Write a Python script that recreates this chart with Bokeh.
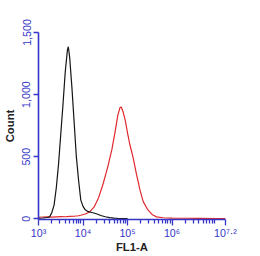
from bokeh.plotting import figure
from bokeh.models import Range1d, FixedTicker
from bokeh.embed import file_html
from bokeh.resources import INLINE
import math

# x values are log10(FL1-A)
black_x = [3.00, 3.10, 3.20, 3.25, 3.30, 3.35, 3.40, 3.45, 3.50, 3.55, 3.60, 3.65, 3.67, 3.70,
           3.75, 3.80, 3.85, 3.90, 3.95, 4.00, 4.05, 4.10, 4.20, 4.30, 4.40, 4.50, 4.60, 4.70,
           4.80, 5.00]
black_y = [4, 6, 10, 15, 50, 110, 250, 440, 680, 920, 1180, 1360, 1385, 1300,
           1060, 780, 500, 310, 150, 100, 72, 60, 50, 40, 26, 16, 9, 5,
           2, 1]

red_x = [3.00, 3.10, 3.20, 3.30, 3.40, 3.50, 3.60, 3.70, 3.80, 3.90, 3.95, 4.05, 4.15, 4.25,
         4.35, 4.45, 4.55, 4.65, 4.72, 4.78, 4.83, 4.86, 4.90, 4.95, 5.00, 5.05, 5.12, 5.20,
         5.28, 5.35, 5.45, 5.55, 5.65, 5.80, 6.00, 6.30, 6.60, 7.00, 7.20]
red_y = [12, 14, 15, 13, 15, 17, 16, 19, 20, 24, 28, 38, 55, 95,
         170, 280, 410, 560, 700, 830, 895, 900, 860, 790, 690, 600, 500, 360,
         230, 140, 75, 35, 15, 8, 5, 4, 3, 2, 1]

x_ticks = [3, 4, 5, 6, 7.2]
x_tick_labels = ["10³", "10⁴", "10⁵", "10⁶", "10⁷·²"]
y_ticks = [0, 500, 1000, 1500]
y_tick_labels = ["0", "500", "1,000", "1,500"]

AXIS_BLUE = "#3535c8"

p = figure(width=260, height=256, output_backend="svg", toolbar_location=None,
           x_range=Range1d(3, 7.2), y_range=Range1d(-6, 1500),
           min_border_left=37, min_border_right=35, min_border_top=32, min_border_bottom=37)
p.outline_line_color = None
p.xgrid.visible = False
p.ygrid.visible = False
p.background_fill_color = "white"
p.border_fill_color = "white"

minor = [math.log10(k * 10 ** d) for d in range(3, 8) for k in range(2, 10)
         if math.log10(k * 10 ** d) < 7.2]
p.xaxis.ticker = FixedTicker(ticks=x_ticks, minor_ticks=minor)
p.xaxis.major_label_overrides = {t: l for t, l in zip(x_ticks, x_tick_labels)}
p.yaxis.ticker = FixedTicker(ticks=y_ticks)
p.yaxis.major_label_overrides = {t: l for t, l in zip(y_ticks, y_tick_labels)}
p.yaxis.major_label_orientation = "vertical"

for ax in (p.xaxis[0], p.yaxis[0]):
    ax.axis_line_color = AXIS_BLUE
    ax.axis_line_width = 1.6
    ax.major_tick_line_color = AXIS_BLUE
    ax.major_tick_line_width = 1.3
    ax.minor_tick_line_color = AXIS_BLUE
    ax.minor_tick_line_width = 1.3
    ax.major_tick_in = 0
    ax.major_tick_out = 6
    ax.minor_tick_in = 0
    ax.minor_tick_out = 4
    ax.major_label_text_color = AXIS_BLUE
    ax.major_label_text_font = "Liberation Sans"
    ax.major_label_text_font_size = "8pt"
    ax.major_label_standoff = 1
    ax.axis_label_text_font = "Liberation Sans"
    ax.axis_label_text_font_size = "8.5pt"
    ax.axis_label_text_font_style = "bold"
    ax.axis_label_text_color = "#222222"
    ax.axis_label_standoff = -1
p.yaxis.minor_tick_line_color = None
p.yaxis.major_tick_out = 5
p.yaxis.major_label_standoff = 3
p.yaxis.axis_label_standoff = 4
p.xaxis.axis_label = "FL1-A"
p.yaxis.axis_label = "Count"

p.line(red_x, red_y, line_color="#e0282e", line_width=1.2)
p.line(black_x, black_y, line_color="#151515", line_width=1.2)

open("out.html", "w").write(file_html(p, INLINE))
